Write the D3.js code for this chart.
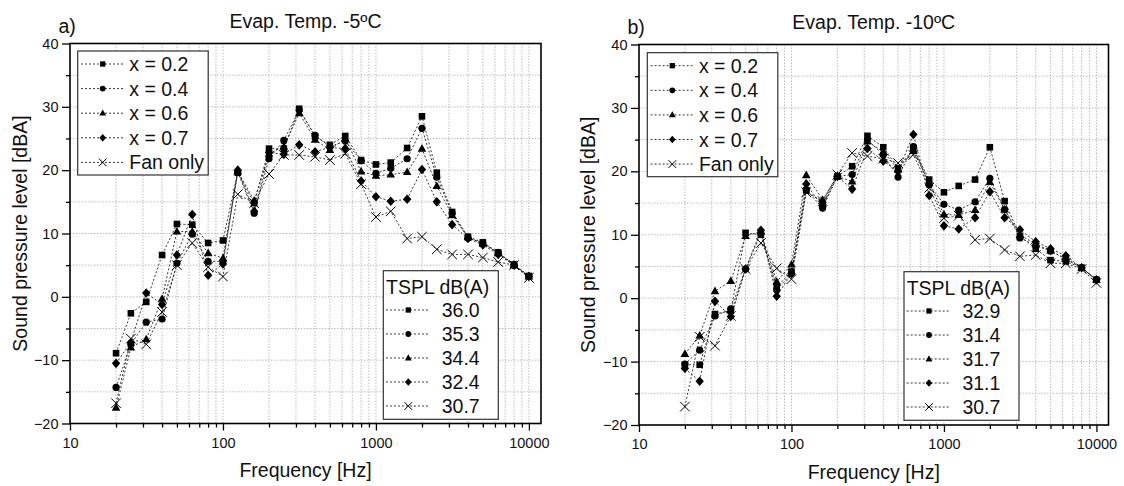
<!DOCTYPE html>
<html>
<head>
<meta charset="utf-8">
<script src="https://cdn.jsdelivr.net/npm/d3@7"></script>
<style>
  body { margin: 0; background: #fff; }
  text { font-family: "Liberation Sans", Arial, sans-serif; fill: #111; }
</style>
</head>
<body>
<script>
// 1/3 octave band centres
const freqHz = [20, 25, 31.5, 40, 50, 63, 80, 100, 125, 160, 200, 250, 315, 400, 500, 630, 800, 1000, 1250, 1600, 2000, 2500, 3150, 4000, 5000, 6300, 8000, 10000];

const seriesNames = ["x = 0.2", "x = 0.4", "x = 0.6", "x = 0.7", "Fan only"];
const markerKinds = ["square", "circle", "triangle", "diamond", "cross"];

const xTicks = [10, 100, 1000, 10000];
const yTicks = [-20, -10, 0, 10, 20, 30, 40];

// panel a) evap. temp -5
const a_x02 = [-8.9, -2.6, -0.8, 6.6, 11.5, 11.4, 8.5, 8.9, 19.6, 14.8, 23.4, 23.4, 29.7, 25.3, 24.0, 25.4, 21.6, 20.9, 21.2, 23.5, 28.5, 19.6, 13.4, 9.5, 8.6, 7.0, 5.1, 3.3];
const a_x04 = [-14.3, -7.5, -4.0, -3.5, 5.3, 9.9, 5.6, 5.6, 19.7, 13.2, 21.8, 24.7, 29.5, 25.5, 23.7, 24.6, 21.5, 19.5, 20.3, 21.8, 26.6, 18.9, 13.2, 9.3, 8.5, 7.0, 5.0, 3.2];
const a_x06 = [-17.5, -8.0, -6.7, -0.3, 10.3, 10.3, 6.9, 6.1, 19.8, 15.2, 22.6, 23.7, 29.0, 24.8, 23.2, 25.0, 19.8, 19.1, 19.3, 19.7, 23.4, 17.5, 12.9, 9.4, 8.4, 6.9, 5.0, 3.2];
const a_x07 = [-10.5, -7.2, 0.6, -1.2, 6.6, 13.0, 3.4, 5.2, 20.0, 13.5, 22.8, 22.5, 24.0, 22.9, 23.6, 23.4, 18.3, 15.8, 15.1, 15.4, 20.1, 15.0, 11.4, 9.2, 8.2, 6.7, 5.0, 3.2];
const a_fan = [-16.8, -6.6, -7.5, -2.4, 5.0, 8.5, 4.7, 3.2, 16.2, 14.8, 19.4, 22.4, 22.4, 22.1, 21.6, 22.6, 17.8, 12.6, 13.5, 9.2, 9.5, 7.5, 6.7, 6.7, 6.2, 5.5, 5.0, 3.0];
const tsplA = ["36.0", "35.3", "34.4", "32.4", "30.7"];

// panel b) evap. temp -10
const b_x02 = [-10.5, -10.5, -2.5, -2.0, 10.3, 10.0, 1.8, 4.2, 17.0, 15.0, 19.2, 20.8, 25.6, 23.8, 20.5, 23.5, 18.7, 16.7, 17.7, 18.7, 23.8, 15.3, 9.8, 7.8, 6.0, 5.8, 4.8, 2.9];
const b_x04 = [-10.4, -8.2, -2.8, -1.7, 4.6, 10.2, 1.3, 3.9, 17.1, 14.2, 19.2, 19.5, 25.0, 22.6, 19.1, 23.9, 17.9, 14.8, 13.9, 15.2, 18.9, 14.0, 9.5, 8.3, 7.4, 6.2, 4.8, 2.9];
const b_x06 = [-8.8, -5.9, 1.1, 2.7, 9.8, 10.5, 2.6, 5.3, 19.4, 15.5, 19.2, 18.4, 24.7, 23.1, 20.3, 23.2, 18.2, 13.2, 13.1, 13.9, 18.3, 14.0, 10.0, 8.5, 7.5, 6.2, 4.8, 2.9];
const b_x07 = [-11.1, -13.1, -0.5, -2.9, 4.6, 10.7, 0.3, 3.9, 18.0, 14.4, 19.2, 17.2, 23.6, 21.6, 20.0, 25.8, 16.2, 11.4, 10.9, 12.7, 16.8, 12.7, 10.8, 8.9, 7.8, 6.7, 4.8, 2.9];
const b_fan = [-17.1, -6.1, -7.5, -2.8, 4.6, 8.7, 4.7, 3.0, 16.7, 15.3, 19.5, 22.9, 22.4, 22.0, 21.3, 22.6, 17.4, 12.6, 13.0, 9.2, 9.4, 7.6, 6.6, 6.8, 5.5, 5.5, 4.6, 2.4];
const tsplB = ["32.9", "31.4", "31.7", "31.1", "30.7"];

const app = {

  init: () => {
    app.svg = d3.select("body").append("svg")
      .attr("width", 1124)
      .attr("height", 486);

    app.panel({
      left: 70, top: 43.5, width: 471, height: 380,
      tag: "a)", title: "Evap. Temp. -5\u00baC",
      series: [a_x02, a_x04, a_x06, a_x07, a_fan], tspl: tsplA,
      legTop: [7.7, 7.5], legBottom: [313.3, 227.2], yLabelX: 26.5
    });
    app.panel({
      left: 639, top: 44.5, width: 469.5, height: 380.5,
      tag: "b)", title: "Evap. Temp. -10\u00baC",
      series: [b_x02, b_x04, b_x06, b_x07, b_fan], tspl: tsplB,
      legTop: [8.3, 8.2], legBottom: [265, 227.2], yLabelX: 595
    });
  },

  // marker shapes, k scales them down for the legends
  marker: (sel, kind, k) => {
    k = k || 1;
    if (kind === "circle") {
      sel.append("circle").attr("r", 3.6 * k).attr("fill", "#000");
    } else if (kind === "cross") {
      let s = 4.8 * k;
      sel.append("path")
        .attr("d", `M${-s},${-s}L${s},${s}M${-s},${s}L${s},${-s}`)
        .attr("stroke", "#000").attr("stroke-width", 1).attr("fill", "none");
    } else {
      let d;
      if (kind === "square") { let s = 3.3 * k; d = `M${-s},${-s}H${s}V${s}H${-s}Z`; }
      if (kind === "triangle") d = `M0,${-4.6 * k}L${4.3 * k},${3 * k}L${-4.3 * k},${3 * k}Z`;
      if (kind === "diamond") d = `M0,${-4.8 * k}L${4.2 * k},0L0,${4.8 * k}L${-4.2 * k},0Z`;
      sel.append("path").attr("d", d).attr("fill", "#000");
    }
  },

  panel: (p) => {
    let g = app.svg.append("g").attr("transform", `translate(${p.left},${p.top})`);

    let x = d3.scaleLog().domain([10, 12000]).range([0, p.width]);
    let y = d3.scaleLinear().domain([-20, 40]).range([p.height, 0]);

    // minor ticks: 2..9 in every decade
    let xMinor = [];
    [10, 100, 1000].forEach(dec => {
      for (let m = 2; m <= 9; m++) xMinor.push(dec * m);
    });
    let yMinor = d3.range(-15, 40, 10);

    // grid
    let grid = g.append("g")
      .attr("stroke", "#bdbdbd")
      .attr("stroke-width", 1)
      .attr("stroke-dasharray", "1.5,1.5");
    grid.selectAll(".gx")
      .data(xTicks.concat(xMinor).filter(v => v > 10))
      .enter().append("line")
      .attr("x1", d => x(d)).attr("x2", d => x(d))
      .attr("y1", 0).attr("y2", p.height);
    grid.selectAll(".gy")
      .data(yTicks.concat(yMinor).filter(v => v > -20 && v < 40))
      .enter().append("line")
      .attr("x1", 0).attr("x2", p.width)
      .attr("y1", d => y(d)).attr("y2", d => y(d));

    // series lines
    let line = d3.line()
      .x((d, i) => x(freqHz[i]))
      .y(d => y(d));
    g.selectAll(".series")
      .data(p.series)
      .enter().append("path")
      .attr("d", d => line(d))
      .attr("fill", "none")
      .attr("stroke", "#222")
      .attr("stroke-width", 0.9)
      .attr("stroke-dasharray", "2,2");

    // markers
    p.series.forEach((vals, si) => {
      g.append("g").selectAll("g")
        .data(vals)
        .enter().append("g")
        .attr("transform", (d, i) => `translate(${x(freqHz[i])},${y(d)})`)
        .each(function () { app.marker(d3.select(this), markerKinds[si]); });
    });

    // axes
    let xAxis = g.append("g")
      .attr("transform", `translate(0,${p.height})`)
      .call(d3.axisBottom(x).tickValues(xTicks).tickFormat(d3.format("d")).tickSize(7).tickPadding(7));
    g.append("g")
      .attr("transform", `translate(0,${p.height})`)
      .call(d3.axisBottom(x).tickValues(xMinor).tickFormat("").tickSize(4))
      .select(".domain").remove();
    let yAxis = g.append("g")
      .call(d3.axisLeft(y).tickValues(yTicks).tickFormat(d3.format("d")).tickSize(8).tickPadding(3.5));
    g.append("g")
      .call(d3.axisLeft(y).tickValues(yMinor).tickFormat("").tickSize(4))
      .select(".domain").remove();
    [xAxis, yAxis].forEach(a => {
      a.select(".domain").remove();
      a.selectAll("text").style("font-size", "14.5px").attr("fill", "#111");
    });
    g.selectAll(".tick line").attr("stroke", "#000").attr("stroke-width", 1.3);

    // frame
    g.append("rect")
      .attr("width", p.width).attr("height", p.height)
      .attr("fill", "none").attr("stroke", "#000").attr("stroke-width", 1.6);

    // labels
    g.append("text")
      .attr("x", p.width / 2).attr("y", p.height + 53.5)
      .attr("text-anchor", "middle")
      .style("font-size", "19.5px")
      .text("Frequency [Hz]");
    app.svg.append("text")
      .attr("transform", `translate(${p.yLabelX},${p.top + p.height / 2}) rotate(-90)`)
      .attr("text-anchor", "middle")
      .style("font-size", "19.5px")
      .text("Sound pressure level [dBA]");
    g.append("text")
      .attr("x", p.width / 2).attr("y", -15.5)
      .attr("text-anchor", "middle")
      .style("font-size", "19.5px")
      .text(p.title);
    g.append("text")
      .attr("x", -11.5).attr("y", -10.5)
      .style("font-size", "19.5px")
      .text(p.tag);

    // legend with series names
    let leg1 = g.append("g").attr("transform", `translate(${p.legTop[0]},${p.legTop[1]})`);
    leg1.append("rect")
      .attr("width", 130.5).attr("height", 124)
      .attr("fill", "#fff").attr("stroke", "#333").attr("stroke-width", 1.2);
    let rows1 = leg1.selectAll(".row")
      .data(seriesNames)
      .enter().append("g")
      .attr("transform", (d, i) => `translate(0,${13 + i * 24.6})`);
    rows1.append("line")
      .attr("x1", 3.3).attr("x2", 45.3)
      .attr("stroke", "#222").attr("stroke-width", 0.9).attr("stroke-dasharray", "2,2");
    rows1.append("g")
      .attr("transform", "translate(25,0)")
      .each(function (d, i) { app.marker(d3.select(this), markerKinds[i], 0.8); });
    rows1.append("text")
      .attr("x", 51.6).attr("dy", "0.36em")
      .style("font-size", "19.5px")
      .text(d => d);

    // legend with total levels
    let leg2 = g.append("g").attr("transform", `translate(${p.legBottom[0]},${p.legBottom[1]})`);
    leg2.append("rect")
      .attr("width", 115).attr("height", 148.6)
      .attr("fill", "#fff").attr("stroke", "#333").attr("stroke-width", 1.2);
    leg2.append("text")
      .attr("x", 2.7).attr("y", 16).attr("dy", "0.36em")
      .style("font-size", "19.5px")
      .text("TSPL dB(A)");
    let rows2 = leg2.selectAll(".row")
      .data(p.tspl)
      .enter().append("g")
      .attr("transform", (d, i) => `translate(0,${39.3 + i * 24})`);
    rows2.append("line")
      .attr("x1", 2.7).attr("x2", 46.7)
      .attr("stroke", "#222").attr("stroke-width", 0.9).attr("stroke-dasharray", "2,2");
    rows2.append("g")
      .attr("transform", "translate(25,0)")
      .each(function (d, i) { app.marker(d3.select(this), markerKinds[i], 0.8); });
    rows2.append("text")
      .attr("x", 58.4).attr("dy", "0.36em")
      .style("font-size", "19.5px")
      .text(d => d);
  }

}

app.init();
</script>
</body>
</html>
